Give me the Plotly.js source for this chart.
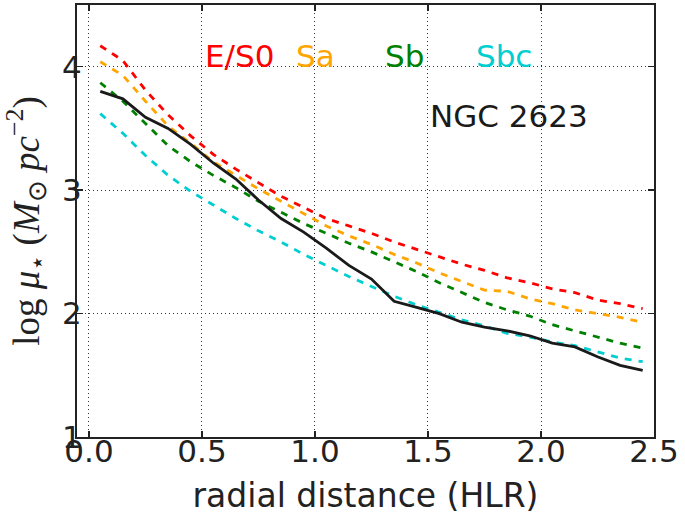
<!DOCTYPE html>
<html>
<head>
<meta charset="utf-8">
<script src="https://cdn.plot.ly/plotly-3.0.1.min.js"></script>
<style>html,body{margin:0;padding:0;background:#fff;}#chart{width:685px;height:515px;}</style>
</head>
<body>
<div id="chart"></div>
<script>
// radial distance (HLR) bin centres
const radius = [0.05,0.15,0.25,0.35,0.45,0.55,0.65,0.75,0.85,0.95,1.05,1.15,1.25,1.35,1.45,1.55,1.65,1.75,1.85,1.95,2.05,2.15,2.25,2.35,2.45];
// NGC 2623 observed profile (log mu*)
const ngc2623 = [3.80,3.74,3.59,3.50,3.37,3.22,3.09,2.92,2.77,2.66,2.53,2.39,2.28,2.10,2.05,2.00,1.93,1.89,1.86,1.82,1.76,1.73,1.65,1.58,1.54];
// average profiles by Hubble type
const es0 = [4.17,4.05,3.81,3.61,3.44,3.29,3.17,3.06,2.95,2.86,2.77,2.71,2.65,2.58,2.52,2.46,2.40,2.35,2.29,2.25,2.20,2.17,2.11,2.08,2.04];
const sa  = [4.04,3.93,3.72,3.52,3.38,3.23,3.12,3.01,2.91,2.81,2.71,2.63,2.56,2.48,2.41,2.33,2.26,2.19,2.18,2.12,2.08,2.03,2.00,1.97,1.93];
const sb  = [3.87,3.72,3.54,3.36,3.23,3.12,3.02,2.91,2.82,2.73,2.65,2.57,2.50,2.42,2.34,2.25,2.17,2.09,2.03,1.98,1.91,1.86,1.81,1.76,1.72];
const sbc = [3.62,3.46,3.28,3.12,2.99,2.88,2.77,2.67,2.58,2.48,2.39,2.30,2.22,2.14,2.07,2.01,1.95,1.90,1.84,1.81,1.77,1.74,1.69,1.64,1.61];
const typeNames = ['E/S0','Sa','Sb','Sbc'];
const xTicks = [0.0,0.5,1.0,1.5,2.0,2.5];
const yTicks = [1,2,3,4];
const xRange = [-0.053, 2.5];
const yRange = [1, 4.5];

const colors = {'E/S0':'#ff0000','Sa':'#ffa500','Sb':'#008000','Sbc':'#00ced1'};
const series = {'E/S0':es0,'Sa':sa,'Sb':sb,'Sbc':sbc};

const traces = [];
typeNames.forEach(n => traces.push({
  x: radius, y: series[n], mode: 'lines', name: n, xaxis: 'x', yaxis: 'y',
  line: {color: colors[n], width: 2.8, dash: '7px,7px'}, showlegend: false
}));
traces.push({
  x: radius, y: ngc2623, mode: 'lines', name: 'NGC 2623', xaxis: 'x2', yaxis: 'y2',
  line: {color: '#1a1a1a', width: 2.8}, showlegend: false
});

const labelX = {'E/S0':0.505,'Sa':0.905,'Sb':1.30,'Sbc':1.705};
const annotations = typeNames.map(n => ({
  x: labelX[n], y: 4.09, xref: 'x', yref: 'y', text: n, showarrow: false,
  xanchor: 'left', yanchor: 'middle',
  font: {family: 'DejaVu Sans', size: 31, color: colors[n]}
}));
annotations.push({
  x: 1.50, y: 3.60, xref: 'x', yref: 'y', text: 'NGC 2623', showarrow: false,
  xanchor: 'left', yanchor: 'middle',
  font: {family: 'DejaVu Sans', size: 31, color: '#1a1a1a'}
});

const frameStyle = {
  showline: true, linecolor: '#222', linewidth: 2, mirror: 'ticks',
  ticks: 'inside', ticklen: 6, tickwidth: 1.5, tickcolor: '#222',
  showgrid: true, gridcolor: '#333', gridwidth: 1, griddash: '1px,3px',
  zeroline: false, showticklabels: false
};
const labelStyle = {
  showline: false, ticks: '', showgrid: false, zeroline: false,
  tickfont: {family: 'DejaVu Sans', size: 31, color: '#222'}
};

const layout = {
  width: 685, height: 515,
  margin: {l: 77, r: 31, t: 5, b: 78},
  paper_bgcolor: '#fff', plot_bgcolor: '#fff',
  xaxis: Object.assign({}, frameStyle, {range: xRange, tickvals: xTicks, anchor: 'y'}),
  yaxis: Object.assign({}, frameStyle, {range: yRange, tickvals: yTicks, anchor: 'x'}),
  xaxis2: Object.assign({}, labelStyle, {
    range: xRange, tickvals: xTicks, tickformat: '.1f',
    overlaying: 'x', side: 'bottom', anchor: 'free', position: 0.017,
    title: {text: 'radial distance (HLR)', font: {family: 'DejaVu Sans', size: 33, color: '#222'}, standoff: 16}
  }),
  yaxis2: Object.assign({}, labelStyle, {
    range: yRange, tickvals: yTicks,
    overlaying: 'y', side: 'left', anchor: 'free', position: 0.008,
    title: {text: 'log <i>μ</i><sub>⋆</sub> (<i>M</i><sub>⊙</sub> <i>pc</i><sup>−2</sup>)',
            font: {family: 'Liberation Serif', size: 37, color: '#222'}, standoff: 10}
  }),
  annotations: annotations,
  showlegend: false
};

Plotly.newPlot('chart', traces, layout, {displayModeBar: false, staticPlot: true});
</script>
</body>
</html>
